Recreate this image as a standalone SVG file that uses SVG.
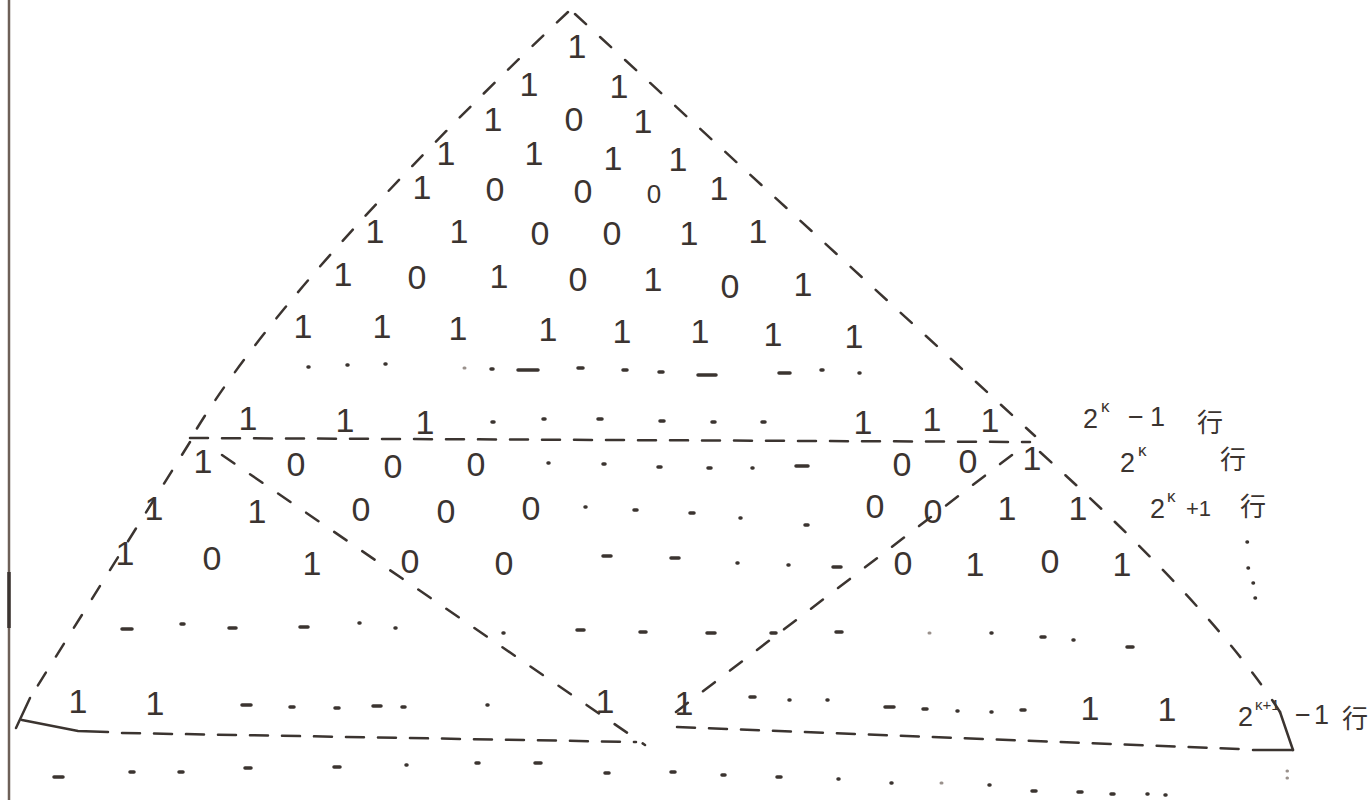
<svg xmlns="http://www.w3.org/2000/svg" width="1372" height="800" viewBox="0 0 1372 800">
<style>
.d{font-family:"Liberation Sans",sans-serif;font-size:34px;fill:#3b3430;text-anchor:middle}
.lbl{font-family:"Liberation Sans","Noto Sans CJK SC",sans-serif;font-size:27px;fill:#3b3430}
.sup{font-size:17px}
.cjk{font-family:"Noto Sans CJK SC",sans-serif;font-size:26px}
.edge{fill:none;stroke:#3b3430;stroke-width:2.5;stroke-dasharray:15 19;stroke-linecap:round}
.edge2{fill:none;stroke:#3b3430;stroke-width:2.5;stroke-dasharray:18 14;stroke-linecap:round}
.solid{fill:none;stroke:#3b3430;stroke-width:2.5;stroke-linecap:round}
.dot{fill:none;stroke:#3b3430;stroke-width:3.5;stroke-linecap:round}
.faint{fill:none;stroke:#9a918c;stroke-width:3;stroke-linecap:round}
</style>
<rect width="1372" height="800" fill="#ffffff"/>
<line x1="9" y1="0" x2="9" y2="800" stroke="#6e6058" stroke-width="2.5"/>
<line x1="9" y1="572" x2="9" y2="628" stroke="#3b3430" stroke-width="3.5"/>

<g id="connectors">
  <path class="edge" d="M568,12 Q282,283 190,440"/>
  <path class="edge" d="M575,14 L1035,436"/>
  <path class="edge2" d="M190,438 L1030,442"/>
  <path class="edge" d="M190,442 L30,698"/>
  <path class="solid" d="M30,698 L16,728"/>
  <path class="edge" d="M222,455 L645,745"/>
  <path class="edge" d="M1012,455 L668,718"/>
  <path class="edge" d="M1040,452 Q1215,610 1280,712"/>
  <path class="solid" d="M1280,712 L1293,750"/>
  <path class="solid" d="M22,720 L78,731 L108,732"/>
  <path class="edge2" d="M122,733 L636,742"/>
  <path class="edge2" d="M677,727 L1240,749"/>
  <path class="solid" d="M1253,750 L1293,750"/>
</g>

<g id="dots">
  <path class="dot" d="M308,367h1 M347,365h1 M385,364h1 M491,369h2 M518,370h20 M578,368h5 M623,370h4 M659,372h4 M698,375h18 M779,373h11 M821,370h2 M859,373h1"/>
  <path class="dot" d="M492,422h2 M543,419h2 M598,419h4 M660,421h4 M712,422h3 M762,422h3"/>
  <path class="dot" d="M548,463h1 M603,464h2 M658,467h3 M708,468h3 M752,468h1 M796,466h12"/>
  <path class="dot" d="M585,507h1 M634,510h3 M690,513h4 M740,518h1 M805,525h3"/>
  <path class="dot" d="M603,556h8 M671,558h8 M737,563h1 M788,565h1 M833,567h8"/>
  <path class="dot" d="M122,629h10 M181,624h3 M229,628h7 M300,627h8 M359,623h1 M395,628h1 M503,633h1 M577,630h7 M640,632h6 M707,633h8 M771,633h5 M836,632h6 M991,633h1 M1041,637h4 M1073,640h1 M1127,647h6"/>
  <path class="dot" d="M242,705h9 M290,707h4 M335,708h4 M373,706h8 M402,707h3 M487,705h1 M750,697h5 M789,700h1 M827,700h1 M885,707h9 M923,709h4 M957,711h1 M991,712h1 M1021,710h4"/>
  <path class="dot" d="M54,777h9 M130,772h4 M179,772h4 M245,768h6 M334,767h6 M406,765h1 M476,763h3 M535,763h6 M605,773h4 M671,772h4 M722,775h3 M777,777h4 M838,779h1 M891,783h1 M989,785h1 M1032,791h4 M1078,792h4 M1111,794h3 M1147,794h1 M1165,795h1"/>
  <path class="dot" d="M1247,542h0.5 M1248,568h0.5 M1253,583h0.5 M1255,598h0.5"/>
  <path class="faint" d="M929,633h1 M941,783h1 M1287,771h0.5 M1287,778h0.5 M464,368h1"/>
</g>

<g id="row0"><text class="d" x="577" y="58">1</text></g>
<g id="row1"><text class="d" x="529" y="96">1</text><text class="d" x="619" y="98">1</text></g>
<g id="row2"><text class="d" x="493" y="131">1</text><text class="d" x="574" y="131">0</text><text class="d" x="643" y="133">1</text></g>
<g id="row3"><text class="d" x="446" y="165">1</text><text class="d" x="534" y="165">1</text><text class="d" x="613" y="170">1</text><text class="d" x="678" y="171">1</text></g>
<g id="row4"><text class="d" x="422" y="199">1</text><text class="d" x="495" y="201">0</text><text class="d" x="583" y="203">0</text><text class="d" x="654" y="203" style="font-size:26px">0</text><text class="d" x="719" y="200">1</text></g>
<g id="row5"><text class="d" x="375" y="243">1</text><text class="d" x="459" y="243">1</text><text class="d" x="540" y="245">0</text><text class="d" x="612" y="245">0</text><text class="d" x="689" y="245">1</text><text class="d" x="758" y="243">1</text></g>
<g id="row6"><text class="d" x="343" y="286">1</text><text class="d" x="417" y="289">0</text><text class="d" x="499" y="288">1</text><text class="d" x="578" y="291">0</text><text class="d" x="653" y="291">1</text><text class="d" x="730" y="298">0</text><text class="d" x="803" y="296">1</text></g>
<g id="row7"><text class="d" x="303" y="338">1</text><text class="d" x="382" y="338">1</text><text class="d" x="458" y="340">1</text><text class="d" x="548" y="341">1</text><text class="d" x="622" y="343">1</text><text class="d" x="700" y="343">1</text><text class="d" x="773" y="346">1</text><text class="d" x="854" y="348">1</text></g>
<g id="row-2k-1"><text class="d" x="248" y="430">1</text><text class="d" x="345" y="432">1</text><text class="d" x="425" y="434">1</text><text class="d" x="863" y="434">1</text><text class="d" x="932" y="431">1</text><text class="d" x="990" y="432">1</text></g>
<g id="row-2k"><text class="d" x="203" y="473">1</text><text class="d" x="296" y="476">0</text><text class="d" x="393" y="478">0</text><text class="d" x="476" y="476">0</text><text class="d" x="902" y="476">0</text><text class="d" x="968" y="473">0</text><text class="d" x="1032" y="470">1</text></g>
<g id="row-2k+1"><text class="d" x="154" y="520">1</text><text class="d" x="257" y="523">1</text><text class="d" x="361" y="521">0</text><text class="d" x="446" y="523">0</text><text class="d" x="531" y="520">0</text><text class="d" x="875" y="518">0</text><text class="d" x="933" y="523">0</text><text class="d" x="1007" y="520">1</text><text class="d" x="1078" y="520">1</text></g>
<g id="row-2k+2"><text class="d" x="125" y="565">1</text><text class="d" x="212" y="570">0</text><text class="d" x="312" y="575">1</text><text class="d" x="410" y="573">0</text><text class="d" x="504" y="575">0</text><text class="d" x="903" y="575">0</text><text class="d" x="975" y="576">1</text><text class="d" x="1050" y="573">0</text><text class="d" x="1122" y="576">1</text></g>
<g id="row-last"><text class="d" x="78" y="713">1</text><text class="d" x="155" y="715">1</text><text class="d" x="605" y="713">1</text><text class="d" x="684" y="715">1</text><text class="d" x="1090" y="720">1</text><text class="d" x="1167" y="721">1</text></g>

<g id="label-2k-1"><text class="lbl"><tspan x="1083" y="428">2</tspan><tspan class="sup" x="1101" y="412">κ</tspan><tspan x="1128" y="426">−</tspan><tspan x="1150" y="426">1</tspan><tspan class="cjk" x="1197" y="432">行</tspan></text></g>
<g id="label-2k"><text class="lbl"><tspan x="1120" y="472">2</tspan><tspan class="sup" x="1138" y="456">κ</tspan><tspan class="cjk" x="1220" y="469">行</tspan></text></g>
<g id="label-2k+1"><text class="lbl"><tspan x="1150" y="518">2</tspan><tspan class="sup" x="1167" y="502">κ</tspan><tspan style="font-size:22px" x="1186" y="516">+1</tspan><tspan class="cjk" x="1240" y="516">行</tspan></text></g>
<g id="label-2k1-1"><text class="lbl"><tspan x="1238" y="726">2</tspan><tspan class="sup" style="font-size:15px" x="1255" y="710">κ+1</tspan><tspan x="1295" y="724">−</tspan><tspan x="1314" y="724">1</tspan><tspan class="cjk" x="1342" y="728">行</tspan></text></g>
</svg>
